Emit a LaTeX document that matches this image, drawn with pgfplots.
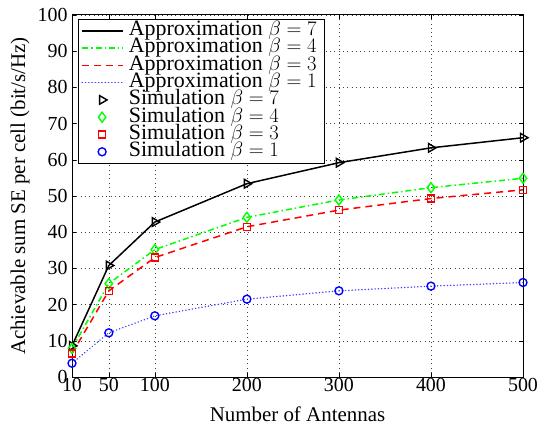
\documentclass[border=0pt]{standalone}
\usepackage{pgfplots}
\pgfplotsset{compat=1.18}
\usepackage{fontspec}
\setmainfont{Liberation Serif}
\pgfplotsset{legend image code/.code={\draw[mark repeat=2,mark phase=2,#1] plot coordinates {(0bp,0bp)(20bp,0bp)(41bp,0bp)};}}
\begin{document}
\begin{tikzpicture}[x=1bp,y=1bp]
\begin{axis}[
  scale only axis,
  width=451bp, height=362bp,
  xmin=10, xmax=500, ymin=0, ymax=100,
  xtick={10,50,100,200,300,400,500},
  ytick={0,10,...,100},
  grid=major,
  major grid style={black!75, line width=0.5pt, dash pattern=on 0.8bp off 3.5bp},
  tick align=inside,
  tick style={black, line width=0.5pt},
  major tick length=4bp,
  axis line style={line width=1pt},
  /pgf/number format/assume math mode=true,
  tick label style={font=\fontsize{20}{22}\selectfont},
  xticklabel style={yshift=2bp},
  yticklabel style={xshift=-1bp},
  label style={font=\fontsize{21}{22}\selectfont},
  xlabel={Number of Antennas},
  ylabel={Achievable sum SE per cell (bit/s/Hz)},
  xlabel style={at={(axis description cs:0.5,0)}, anchor=base, yshift=-44bp},
  ylabel style={at={(axis description cs:0,0.5)}, anchor=south, yshift=39bp},
  legend style={at={(0.013,0.99)}, anchor=north west, draw=black, line width=0.9pt,
    font=\fontsize{22}{17}\selectfont, inner xsep=3bp, inner ysep=3bp, row sep=0pt,
    nodes={inner ysep=0pt, inner xsep=5bp, text height=13.5bp, text depth=3.8bp},
    legend cell align=left},
]
\addplot[black, solid, line width=1.5pt, forget plot] coordinates {(10,8.6) (50,30.8) (100,42.8) (200,53.4) (300,59.2) (400,63.3) (500,66.1)};
\addplot[green, line width=1.5pt, dash pattern=on 6pt off 3pt on 1.5pt off 3pt, forget plot] coordinates {(10,7.9) (50,25.8) (100,35.2) (200,44.1) (300,48.9) (400,52.3) (500,54.9)};
\addplot[red, line width=1.5pt, dash pattern=on 7pt off 5pt, forget plot] coordinates {(10,6.5) (50,23.8) (100,33.0) (200,41.5) (300,46.1) (400,49.3) (500,51.7)};
\addplot[blue!75, line width=1.4pt, line cap=round, dash pattern=on 0.3pt off 3pt, forget plot] coordinates {(10,3.8) (50,12.2) (100,16.9) (200,21.5) (300,23.8) (400,25.1) (500,26.1)};
\addplot[black, only marks, mark=triangle, mark options={rotate=-90, line width=1.4pt, solid}, mark size=5pt, forget plot] coordinates {(10,8.6) (50,30.8) (100,42.8) (200,53.4) (300,59.2) (400,63.3) (500,66.1)};
\addplot[green, only marks, mark=diamond, mark options={line width=1.4pt, solid}, mark size=5pt, forget plot] coordinates {(10,7.9) (50,25.8) (100,35.2) (200,44.1) (300,48.9) (400,52.3) (500,54.9)};
\addplot[red, only marks, mark=square, mark options={line width=1.4pt, solid}, mark size=3.5pt, forget plot] coordinates {(10,6.5) (50,23.8) (100,33.0) (200,41.5) (300,46.1) (400,49.3) (500,51.7)};
\addplot[blue, only marks, mark=o, mark options={line width=1.4pt, solid}, mark size=4pt, forget plot] coordinates {(10,3.8) (50,12.2) (100,16.9) (200,21.5) (300,23.8) (400,25.1) (500,26.1)};
\addlegendimage{black, solid, line width=1.6pt}
\addlegendentry{Approximation $\beta=7$\hspace{9bp}}
\addlegendimage{green, line width=1.6pt, dash pattern=on 6pt off 3pt on 1.5pt off 3pt}
\addlegendentry{Approximation $\beta=4$}
\addlegendimage{red, line width=1.6pt, dash pattern=on 7pt off 5pt}
\addlegendentry{Approximation $\beta=3$}
\addlegendimage{blue!75, line width=1.5pt, line cap=round, dash pattern=on 0.3pt off 3pt}
\addlegendentry{Approximation $\beta=1$}
\addlegendimage{black, only marks, mark=triangle, mark options={rotate=-90, line width=1.4pt, solid}, mark size=5pt}
\addlegendentry{Simulation $\beta=7$}
\addlegendimage{green, only marks, mark=diamond, mark options={line width=1.4pt, solid}, mark size=5pt}
\addlegendentry{Simulation $\beta=4$}
\addlegendimage{red, only marks, mark=square, mark options={line width=1.4pt, solid}, mark size=3.5pt}
\addlegendentry{Simulation $\beta=3$}
\addlegendimage{blue, only marks, mark=o, mark options={line width=1.4pt, solid}, mark size=4pt}
\addlegendentry{Simulation $\beta=1$}
\end{axis}
\path (current axis.south west) ++(-72bp,-48bp);
\path (current axis.north east) ++(19bp,15bp);
\end{tikzpicture}
\end{document}
